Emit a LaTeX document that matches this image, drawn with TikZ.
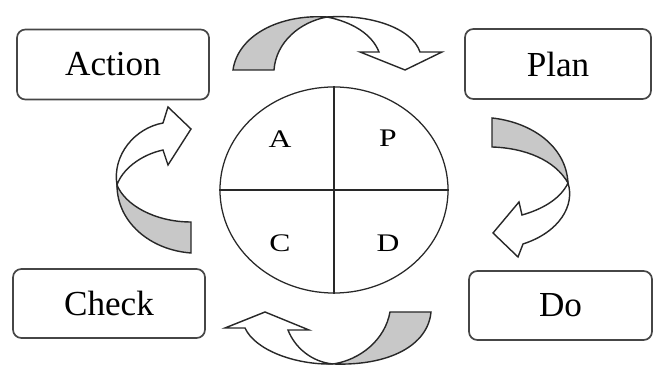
\documentclass[tikz,border=0pt]{standalone}
\usepackage{fontspec}
\setmainfont{Liberation Serif}
\usepackage{xcolor}
\usetikzlibrary{shapes.geometric}
\definecolor{framegray}{RGB}{70,70,70}
\definecolor{ribbongray}{RGB}{200,200,200}
\definecolor{inkgray}{RGB}{40,40,40}

\begin{document}
\begin{tikzpicture}[x=0.025cm, y=-0.025cm,
  stepbox/.style={draw=framegray, line width=1.2pt, rounded corners=6pt,
    fill=white, minimum height=1.75cm, font=\fontsize{25}{28}\selectfont},
  quarter/.style={font=\fontsize{18}{22}\selectfont, xscale=1.25},
  ribbon/.style={draw=inkgray, line width=1pt, line join=miter}]
  \useasboundingbox (0,0) rectangle (654,365);

  % Phase boxes
  \node[stepbox, minimum width=4.8cm] (action) at (113,64.5) {Action};
  \node[stepbox, minimum width=4.65cm] (plan) at (558,64) {Plan};
  \node[stepbox, minimum width=4.8cm, minimum height=1.725cm] (check)
    at (109,303.5) {Check};
  \node[stepbox, minimum width=4.575cm, minimum height=1.725cm] (do)
    at (560.5,305.5) {Do};

  % Wheel split in four
  \node[ellipse, draw=inkgray, line width=0.9pt, inner sep=0pt,
    minimum width=5.7cm, minimum height=5.15cm] (wheel) at (334,190) {};
  \draw[inkgray, line width=0.9pt] (wheel.west) -- (wheel.east);
  \draw[inkgray, line width=0.9pt] (wheel.north) -- (wheel.south);
  \foreach \nm/\lab/\x/\y in {qa/A/280/139, qp/P/388/138,
                               qc/C/280/243, qd/D/388/243}{
    \node[quarter] (\nm) at (\x,\y) {\lab};
  }

  % Top ribbon: Action to Plan
  \filldraw[ribbon, fill=ribbongray]
    (233,70) .. controls (238,35) and (280,14) .. (327,17)
    .. controls (300,22) and (276,42) .. (274,70) -- cycle;
  \filldraw[ribbon, fill=white]
    (327,17) .. controls (370,14) and (412,28) .. (420,52)
    -- (442,52) -- (405,70) -- (360,52) -- (379,52)
    .. controls (372,34) and (352,22) .. (327,17) -- cycle;

  % Right ribbon: Plan to Do
  \filldraw[ribbon, fill=ribbongray]
    (492,118) .. controls (530,122) and (566,145) .. (568,183)
    .. controls (555,160) and (525,148) .. (492,147) -- cycle;
  \filldraw[ribbon, fill=white]
    (568,183) .. controls (560,200) and (540,210) .. (522,215)
    -- (519,202) -- (493,233) -- (518,257) -- (523,244)
    .. controls (560,232) and (575,205) .. (568,183) -- cycle;

  % Bottom ribbon: Do to Check
  \filldraw[ribbon, fill=ribbongray]
    (431,312) .. controls (428,345) and (390,366) .. (333,364)
    .. controls (360,360) and (385,340) .. (390,312) -- cycle;
  \filldraw[ribbon, fill=white]
    (333,364) .. controls (295,365) and (255,350) .. (245,328)
    -- (225,328) -- (265,312) -- (309,330) -- (288,330)
    .. controls (295,348) and (312,362) .. (333,364) -- cycle;

  % Left ribbon: Check to Action
  \filldraw[ribbon, fill=ribbongray]
    (191,253) .. controls (150,250) and (117,222) .. (117,185)
    .. controls (125,205) and (155,222) .. (191,222) -- cycle;
  \filldraw[ribbon, fill=white]
    (117,185) .. controls (112,155) and (135,128) .. (163,123)
    -- (168,107) -- (191,129) -- (168,165) -- (163,150)
    .. controls (140,155) and (122,170) .. (117,185) -- cycle;
\end{tikzpicture}
\end{document}
